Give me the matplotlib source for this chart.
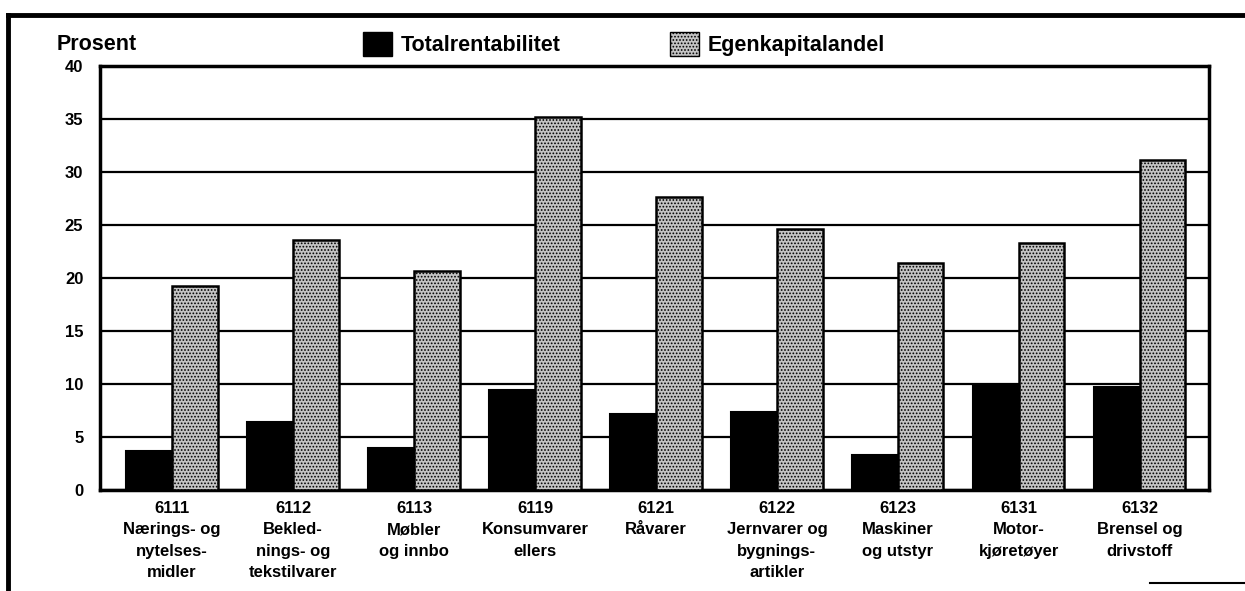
import matplotlib.pyplot as plt
import matplotlib.lines as mlines
import matplotlib.patches as mpatches
import numpy as np

plt.rcParams['font.family'] = ['Liberation Sans', 'DejaVu Sans']
plt.rcParams['hatch.linewidth'] = 0.8
plt.rcParams['hatch.color'] = '#3a3a3a'

# categories (naeringsgrupper)
kategorier = ['6111\nNærings- og\nnytelses-\nmidler',
              '6112\nBekled-\nnings- og\ntekstilvarer',
              '6113\nMøbler\nog innbo',
              '6119\nKonsumvarer\nellers',
              '6121\nRåvarer',
              '6122\nJernvarer og\nbygnings-\nartikler',
              '6123\nMaskiner\nog utstyr',
              '6131\nMotor-\nkjøretøyer',
              '6132\nBrensel og\ndrivstoff']

# values
totalrentabilitet = [3.7, 6.4, 4.0, 9.4, 7.2, 7.35, 3.3, 9.9, 9.75]
egenkapitalandel = [19.25, 23.6, 20.7, 35.2, 27.6, 24.65, 21.45, 23.3, 31.1]

yticks = [0, 5, 10, 15, 20, 25, 30, 35, 40]

fig = plt.figure(figsize=(12.45, 5.91), dpi=100)
ax = fig.add_axes([0.0803, 0.1709, 0.8907, 0.7174])

x = np.arange(len(kategorier))
w = 0.377

ax.bar(x - w / 2, totalrentabilitet, w, color='black', edgecolor='black',
       linewidth=1.5, zorder=3, label='Totalrentabilitet')
ax.bar(x + w / 2, egenkapitalandel, w, color='#c4c4c4', edgecolor='black',
       linewidth=1.8, hatch='.....', zorder=3, label='Egenkapitalandel')

ax.set_xlim(-0.596, len(kategorier) - 1 + 0.571)
ax.set_ylim(0, 40)
ax.set_yticks(yticks)
ax.set_yticklabels([str(t) for t in yticks], fontsize=12, fontweight='bold')
ax.yaxis.grid(True, color='black', linewidth=1.6, zorder=0)
ax.set_axisbelow(True)
ax.set_xticks(x)
ax.set_xticklabels(kategorier, fontsize=12, fontweight='bold',
                   linespacing=1.52, va='top')
ax.tick_params(axis='both', length=0)
ax.tick_params(axis='y', pad=12)
ax.tick_params(axis='x', pad=8)
for s in ax.spines.values():
    s.set_linewidth(2.5)

fig.text(57 / 1245, 1 - 45 / 591, 'Prosent', fontsize=15.5, fontweight='bold',
         va='center', ha='left')

handles = [mpatches.Patch(facecolor='black', edgecolor='black'),
           mpatches.Patch(facecolor='#c4c4c4', edgecolor='black', hatch='.....')]
fig.legend(handles, ['Totalrentabilitet', 'Egenkapitalandel'], ncol=2,
           loc='center left', bbox_to_anchor=(363 / 1245, 1 - 44 / 591),
           frameon=False, prop={'size': 15.5, 'weight': 'bold'},
           handlelength=1.35, handleheight=1.35,
           handletextpad=0.4, columnspacing=5.1, borderpad=0, borderaxespad=0)

# frame lines around the figure panel
fig.add_artist(mlines.Line2D([8 / 1245, 1], [1 - 15 / 591, 1 - 15 / 591],
                             color='black', linewidth=3.5, transform=fig.transFigure))
fig.add_artist(mlines.Line2D([8 / 1245, 8 / 1245], [1 - 15 / 591, 0],
                             color='black', linewidth=3.5, transform=fig.transFigure))
fig.add_artist(mlines.Line2D([1150 / 1245, 1], [1 - 583 / 591, 1 - 583 / 591],
                             color='black', linewidth=1.5, transform=fig.transFigure))

fig.savefig('out.png', dpi=100)
